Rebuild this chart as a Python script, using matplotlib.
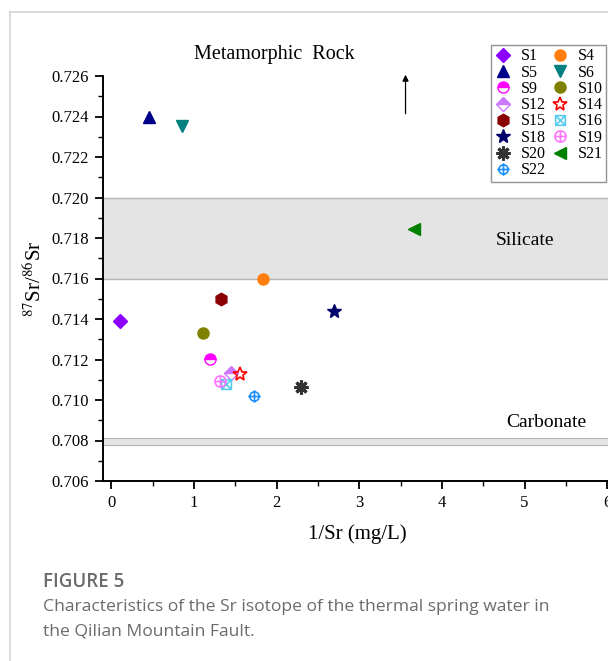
import numpy as np
import matplotlib
matplotlib.use("Agg")
import matplotlib.pyplot as plt
from matplotlib.path import Path
from matplotlib.lines import Line2D

# ---- data (1/Sr vs 87Sr/86Sr) ----
samples = ["S1", "S4", "S5", "S6", "S9", "S10", "S12", "S14", "S15", "S16",
           "S18", "S19", "S20", "S21", "S22"]
inv_sr = [0.10, 1.83, 0.46, 0.85, 1.20, 1.11, 1.45, 1.56, 1.33, 1.39,
          2.70, 1.32, 2.30, 3.66, 1.73]
sr_ratio = [0.71390, 0.71598, 0.72400, 0.72353, 0.71202, 0.71331, 0.71133,
            0.71128, 0.71499, 0.71079, 0.71440, 0.71094, 0.71064, 0.71844,
            0.71020]

x_ticks = [0, 1, 2, 3, 4, 5, 6]
y_ticks = [0.706, 0.708, 0.710, 0.712, 0.714, 0.716, 0.718, 0.720, 0.722,
           0.724, 0.726]

# legend is filled row by row in the original: S1 S4 / S5 S6 / ...
legend_order = ["S1", "S5", "S9", "S12", "S15", "S18", "S20", "S22",
                "S4", "S6", "S10", "S14", "S16", "S19", "S21"]


# ---- custom marker paths ----
def box_x():
    v = [(-1, -1), (1, -1), (1, 1), (-1, 1), (-1, -1),
         (-1, -1), (1, 1), (-1, 1), (1, -1)]
    c = [Path.MOVETO, Path.LINETO, Path.LINETO, Path.LINETO, Path.CLOSEPOLY,
         Path.MOVETO, Path.LINETO, Path.MOVETO, Path.LINETO]
    return Path(v, c)


def circle_cross(ext=1.0):
    circ = Path.unit_circle()
    cross = Path([(-ext, 0), (ext, 0), (0, -ext), (0, ext)],
                 [Path.MOVETO, Path.LINETO, Path.MOVETO, Path.LINETO])
    return Path.make_compound_path(circ, cross)


STYLE = {
    "S1": dict(marker="D", color="#8B00FF", ms=7),
    "S4": dict(marker="o", color="#FF7F0E", ms=8),
    "S5": dict(marker="^", color="#00008B", ms=8),
    "S6": dict(marker="v", color="#008080", ms=8),
    "S9": dict(marker="o", color="#FF00FF", ms=8, fillstyle="top",
               markerfacecoloralt="white"),
    "S10": dict(marker="o", color="#808000", ms=8),
    "S12": dict(marker="D", color="#CC77FF", ms=7, fillstyle="top",
                markerfacecoloralt="white"),
    "S14": dict(marker="*", color="#FF0000", ms=10, mfc="none"),
    "S15": dict(marker="h", color="#8B0000", ms=9),
    "S16": dict(marker=box_x(), color="#55CCEE", ms=7, mfc="none"),
    "S18": dict(marker="*", color="#00006B", ms=10),
    "S19": dict(marker=circle_cross(1.0), color="#FF77FF", ms=8, mfc="none"),
    "S20": dict(marker=(8, 2, 0), color="#333333", ms=10, mew=2.2),
    "S21": dict(marker="<", color="#008000", ms=8),
    "S22": dict(marker=circle_cross(1.35), color="#1E90FF", ms=9, mfc="none"),
}

plt.rcParams["font.family"] = ["Liberation Serif", "DejaVu Serif"]
plt.rcParams["mathtext.fontset"] = "stix"

fig = plt.figure(figsize=(6.08, 6.61), dpi=100)
ax = fig.add_axes([103 / 608, 1 - 481 / 661, 529 / 608, 405 / 661])

ax.set_xlim(-0.1, 6.3)
ax.set_ylim(0.706, 0.726)

# reference bands
ax.axhspan(0.716, 0.720, facecolor="#e4e4e4", edgecolor="none", zorder=0)
for yv in (0.716, 0.720):
    ax.axhline(yv, color="#b5b5b5", lw=1.0, zorder=0.5)
ax.axhspan(0.7078, 0.7081, facecolor="#e4e4e4", edgecolor="none", zorder=0)
for yv in (0.7078, 0.7081):
    ax.axhline(yv, color="#b5b5b5", lw=0.8, zorder=0.5)

handles = {}
for name, x, y in zip(samples, inv_sr, sr_ratio):
    st = dict(STYLE[name])
    ms = st.pop("ms")
    mew = st.pop("mew", 1.2 if st.get("mfc") == "none" else 1.0)
    (h,) = ax.plot([x], [y], linestyle="none", markersize=ms, label=name,
                   markeredgewidth=mew, clip_on=False, zorder=3, **st)
    handles[name] = h

ax.text(1.97, 0.72705, "Metamorphic  Rock", fontsize=14.5, ha="center",
        va="center", clip_on=False)
ax.annotate("", xy=(3.56, 0.7262), xytext=(3.56, 0.7240),
            arrowprops=dict(arrowstyle="-|>", color="black", lw=0.9,
                            mutation_scale=9),
            annotation_clip=False)
ax.text(5.0, 0.7179, "Silicate", fontsize=14, ha="center", va="center")
ax.text(5.26, 0.7089, "Carbonate", fontsize=14, ha="center", va="center")

ax.set_xticks(x_ticks)
ax.set_yticks(y_ticks)
ax.set_yticklabels([f"{v:.3f}" for v in y_ticks])
ax.set_xticks(np.arange(0, 6.01, 0.5), minor=True)
ax.set_yticks(np.arange(0.706, 0.72601, 0.001), minor=True)
ax.tick_params(which="major", direction="out", length=6, width=1.3,
               labelsize=12, colors="black", pad=4)
ax.tick_params(which="minor", direction="out", length=3.5, width=1.0)
for s in ("top", "right"):
    ax.spines[s].set_visible(False)
for s in ("left", "bottom"):
    ax.spines[s].set_linewidth(1.4)

ax.set_xlabel("1/Sr (mg/L)", fontsize=15)
ax.set_ylabel(r"$^{87}$Sr/$^{86}$Sr", fontsize=15)
ax.xaxis.set_label_coords((357 - 103) / 529, -(524 - 481) / 405)
ax.yaxis.set_label_coords(-(103 - 46) / 529, 0.5)

leg = ax.legend([handles[n] for n in legend_order], legend_order,
                ncol=2, loc="upper left",
                bbox_to_anchor=(491 / 608, 1 - 45 / 661),
                bbox_transform=fig.transFigure, fontsize=11.5, frameon=True,
                fancybox=False, edgecolor="#777777", handlelength=1.1,
                handletextpad=0.6, columnspacing=0.3, labelspacing=0.02,
                borderpad=0.2, borderaxespad=0)
leg.get_frame().set_linewidth(1.0)

# page frame and caption
fig.add_artist(Line2D([10 / 608, 10 / 608], [0, 1 - 12 / 661],
                      color="#d4d4d4", lw=1.2, transform=fig.transFigure))
fig.add_artist(Line2D([10 / 608, 1], [1 - 12 / 661, 1 - 12 / 661],
                      color="#d4d4d4", lw=1.2, transform=fig.transFigure))
fig.text(43 / 608, 1 - 582 / 661, "FIGURE 5", fontsize=13.5,
         family=["Open Sans", "DejaVu Sans"], weight="semibold",
         color="#6b6b6b", va="center")
fig.text(43 / 608, 1 - 607 / 661,
         "Characteristics of the Sr isotope of the thermal spring water in",
         fontsize=12.6, family=["Open Sans", "DejaVu Sans"], color="#6b6b6b",
         va="center")
fig.text(43 / 608, 1 - 632 / 661, "the Qilian Mountain Fault.",
         fontsize=12.6, family=["Open Sans", "DejaVu Sans"], color="#6b6b6b",
         va="center")

fig.savefig("out.png", dpi=100)
